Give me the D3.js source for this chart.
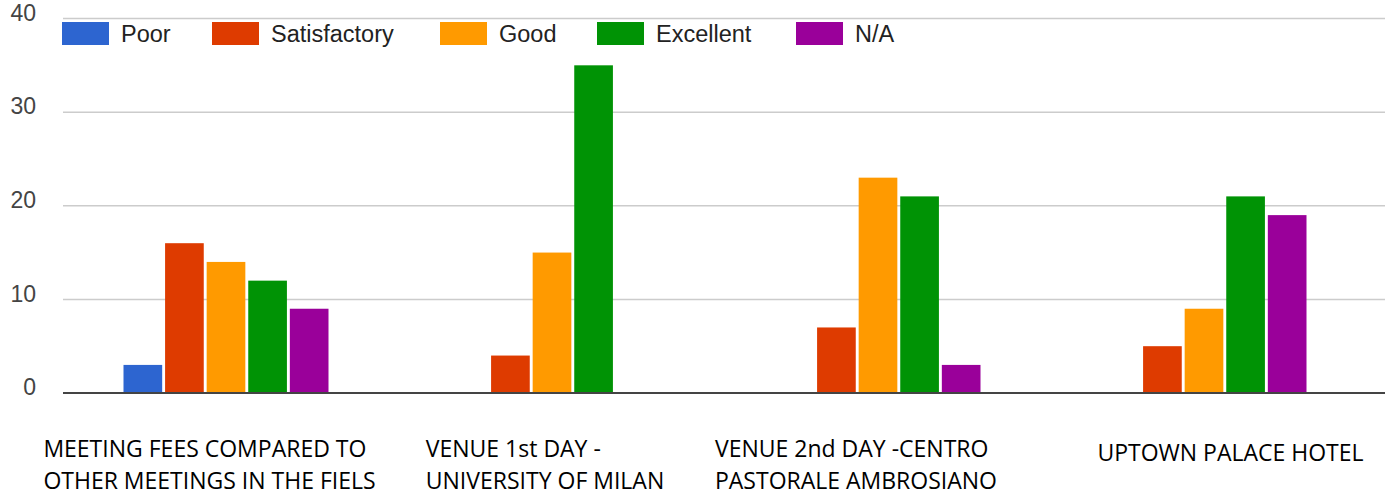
<!DOCTYPE html>
<html>
<head>
<meta charset="utf-8">
<script src="https://cdnjs.cloudflare.com/ajax/libs/d3/7.8.5/d3.min.js"></script>
<style>
  body { margin: 0; background: #fff; }
  svg { display: block; }
</style>
</head>
<body>
<svg id="chart"></svg>
<script>
// data
var categories = [
    ["MEETING FEES COMPARED TO", "OTHER MEETINGS IN THE FIELS"],
    ["VENUE 1st DAY -", "UNIVERSITY OF MILAN"],
    ["VENUE 2nd DAY -CENTRO", "PASTORALE AMBROSIANO"],
    ["UPTOWN PALACE HOTEL"]
];
var ratings = ["Poor", "Satisfactory", "Good", "Excellent", "N/A"];
var poor         = [3, 0, 0, 0];
var satisfactory = [16, 4, 7, 5];
var good         = [14, 15, 23, 9];
var excellent    = [12, 35, 21, 21];
var notApplicable = [9, 0, 3, 19];
var yTicks = [0, 10, 20, 30, 40];

var series = [poor, satisfactory, good, excellent, notApplicable];
var colors = ["#2d65d0", "#de3b00", "#ff9a00", "#009305", "#9a009a"];

var width = 1391, height = 495;
var svg = d3.select("#chart").attr("width", width).attr("height", height);

var x0 = d3.scaleBand().domain(d3.range(categories.length)).range([63, 1367]);
var x1 = d3.scaleBand().domain(ratings)
            .range([x0.bandwidth() / 2 - 102.5, x0.bandwidth() / 2 + 102.5])
            .paddingInner(0.07);
var y = d3.scaleLinear().domain([0, 40]).range([393, 18.5]);

// gridlines
svg.append("g")
    .selectAll("line")
    .data(yTicks.slice(1))
    .enter()
    .append("line")
    .attr("x1", 63).attr("x2", 1385)
    .attr("y1", d => y(d)).attr("y2", d => y(d))
    .attr("stroke", "#cccccc")
    .attr("stroke-width", 1.5);

// tick labels
svg.append("g")
    .selectAll("text")
    .data(yTicks)
    .enter()
    .append("text")
    .attr("x", 36)
    .attr("y", d => y(d))
    .attr("dy", "0.1em")
    .attr("text-anchor", "end")
    .attr("font-family", "Liberation Sans, Arial, sans-serif")
    .attr("font-size", "23px")
    .attr("fill", "#444")
    .text(d => d);

// bars
var rows = [];
categories.forEach((c, i) => {
    ratings.forEach((r, j) => {
        rows.push({ cat: i, rating: r, value: series[j][i], color: colors[j] });
    });
});

svg.append("g")
    .selectAll("rect")
    .data(rows.filter(d => d.value > 0))
    .enter()
    .append("rect")
    .attr("x", d => x0(d.cat) + x1(d.rating))
    .attr("y", d => y(d.value))
    .attr("width", x1.bandwidth())
    .attr("height", d => y(0) - y(d.value))
    .attr("fill", d => d.color);

// baseline
svg.append("line")
    .attr("x1", 63).attr("x2", 1385)
    .attr("y1", y(0)).attr("y2", y(0))
    .attr("stroke", "#444")
    .attr("stroke-width", 2);

// legend
var legendX = [62, 212, 440, 597, 796];
var legend = svg.append("g")
    .selectAll("g")
    .data(ratings)
    .enter()
    .append("g")
    .attr("transform", (d, i) => "translate(" + legendX[i] + ",22)");
legend.append("rect")
    .attr("width", 47).attr("height", 23)
    .attr("fill", (d, i) => colors[i]);
legend.append("text")
    .attr("x", 59).attr("y", 20)
    .attr("font-family", "Liberation Sans, Arial, sans-serif")
    .attr("font-size", "23.5px")
    .attr("fill", "#222")
    .text(d => d);

// category labels (left-aligned text blocks under each group)
var labelShift = [-16.5, -7, -22, 26.5];
var catG = svg.append("g")
    .selectAll("text")
    .data(categories)
    .enter()
    .append("text")
    .attr("font-family", "Open Sans, sans-serif")
    .attr("font-size", "23px")
    .attr("fill", "#000");

catG.each(function(lines, i) {
    var t = d3.select(this);
    var top = lines.length > 1 ? 457 : 461;
    lines.forEach((l, k) => {
        t.append("tspan").attr("x", 0).attr("y", top + k * 32).text(l);
    });
    var w = this.getBBox().width;
    var left = x0(i) + x0.bandwidth() / 2 + labelShift[i] - w / 2;
    t.selectAll("tspan").attr("x", left);
});
</script>
</body>
</html>
